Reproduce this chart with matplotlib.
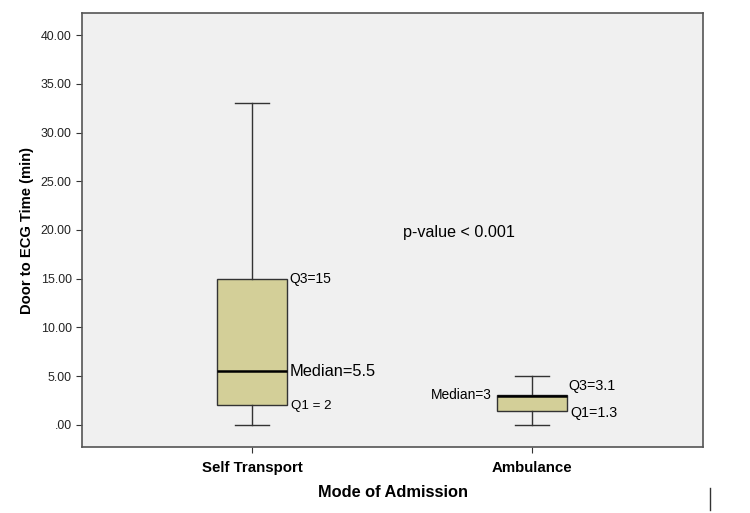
import matplotlib.pyplot as plt

plt.rcParams['font.family'] = ['Liberation Sans', 'DejaVu Sans']

# box statistics
categories = ['Self Transport', 'Ambulance']
whisker_low = [0.0, 0.0]
q1 = [2.0, 1.45]
median = [5.5, 3.0]
q3 = [15.0, 3.1]
whisker_high = [33.0, 5.0]

yticks = [0, 5, 10, 15, 20, 25, 30, 35, 40]
ytick_labels = ['.00', '5.00', '10.00', '15.00', '20.00', '25.00', '30.00', '35.00', '40.00']

stats = []
for i, name in enumerate(categories):
    stats.append({'label': name, 'whislo': whisker_low[i], 'q1': q1[i],
                  'med': median[i], 'q3': q3[i], 'whishi': whisker_high[i]})

fig = plt.figure(figsize=(7.5, 5.13), dpi=100)
ax = fig.add_axes([82 / 750, 1 - 447 / 513, 621 / 750, 434 / 513])
ax.set_facecolor('#f0f0f0')

ax.bxp(stats, positions=[1, 2], widths=0.25, patch_artist=True, showfliers=False,
       boxprops=dict(facecolor='#d3cf98', edgecolor='#333333', linewidth=1.0),
       medianprops=dict(color='black', linewidth=1.8),
       whiskerprops=dict(color='#333333', linewidth=1.0),
       capprops=dict(color='#333333', linewidth=1.0),
       capwidths=0.122)

ax.set_xlim(0.393, 2.611)
ax.set_ylim(-2.26, 42.26)
ax.set_yticks(yticks)
ax.set_yticklabels(ytick_labels)
ax.tick_params(axis='y', labelsize=8.9, length=4, color='#333333', labelcolor='#222222')
ax.tick_params(axis='x', labelsize=10.8, length=4, color='#333333', pad=6)
for lab in ax.get_xticklabels():
    lab.set_fontweight('bold')

for s in ax.spines.values():
    s.set_color('#555555')
    s.set_linewidth(1.2)

ax.set_ylabel('Door to ECG Time (min)', fontsize=10.6, fontweight='bold', labelpad=5)
ax.set_xlabel('Mode of Admission', fontsize=11.8, fontweight='bold', labelpad=7)

# annotations
ax.text(1.132, q3[0], 'Q3=15', fontsize=10, va='center', ha='left')
ax.text(1.136, median[0], 'Median=5.5', fontsize=11.8, va='center', ha='left')
ax.text(1.14, q1[0] - 0.1, 'Q1 = 2', fontsize=9.6, va='center', ha='left')
ax.text(1.54, 19.7, 'p-value < 0.001', fontsize=11.6, va='center', ha='left')
ax.text(1.857, 3.1, 'Median=3', fontsize=9.9, va='center', ha='right')
ax.text(2.13, 4.0, 'Q3=3.1', fontsize=10.3, va='center', ha='left')
ax.text(2.137, 1.2, 'Q1=1.3', fontsize=10.3, va='center', ha='left')

# stray mark at bottom right of the original image
fig.add_artist(plt.Line2D([710 / 750, 710 / 750], [1 - 510 / 513, 1 - 488 / 513],
                          color='#333333', linewidth=1.0))

fig.savefig('out.png', dpi=100)
